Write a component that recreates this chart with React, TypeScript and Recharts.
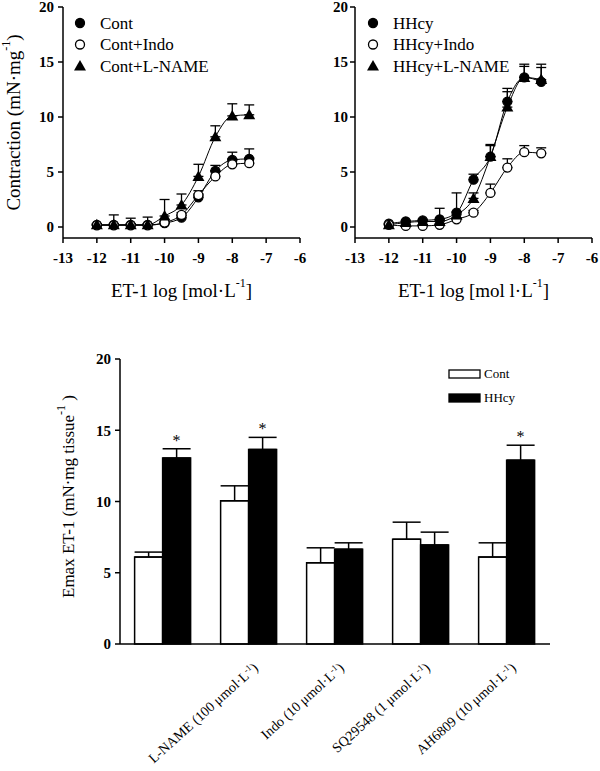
import React from 'react';
import {
  LineChart,
  Line,
  XAxis,
  YAxis,
  ErrorBar,
  Label,
  Legend,
  BarChart,
  Bar,
  LabelList,
} from 'recharts';

const FONT = '"Liberation Serif", "Times New Roman", serif';

// concentration-response curves (x = log molar ET-1)
const logDose = [-12, -11.5, -11, -10.5, -10, -9.5, -9, -8.5, -8, -7.5];
const xTicks = [-13, -12, -11, -10, -9, -8, -7, -6];
const yTicks = [0, 5, 10, 15, 20];

const contMean = [0.2, 0.2, 0.2, 0.2, 0.35, 0.85, 2.7, 5.1, 6.1, 6.2];
const contSem = [0.1, 0.1, 0.1, 0.1, 0.1, 0.2, 0.3, 0.5, 0.7, 0.9];
const contIndoMean = [0.15, 0.15, 0.15, 0.15, 0.4, 1.1, 2.9, 4.6, 5.7, 5.8];
const contIndoSem = [0.1, 0.1, 0.1, 0.1, 0.1, 0.2, 0.4, 0.5, 0.5, 0.5];
const contLnameMean = [0.2, 0.2, 0.2, 0.2, 1.0, 2.0, 4.6, 8.2, 10.1, 10.2];
const contLnameSem = [0.1, 0.9, 0.6, 0.7, 1.5, 1.0, 1.1, 1.0, 1.1, 0.9];

const hhcyMean = [0.3, 0.5, 0.6, 0.7, 1.3, 4.3, 6.4, 11.4, 13.6, 13.2];
const hhcySem = [0.1, 0.1, 0.1, 1.0, 1.8, 0.5, 1.0, 1.2, 1.2, 1.6];
const hhcyIndoMean = [0.2, 0.1, 0.1, 0.2, 0.7, 1.3, 3.1, 5.4, 6.8, 6.7];
const hhcyIndoSem = [0.1, 0.1, 0.1, 0.1, 0.1, 0.2, 0.8, 0.8, 0.6, 0.5];
const hhcyLnameMean = [0.2, 0.4, 0.5, 0.5, 1.1, 2.6, 6.4, 10.9, 13.6, 13.4];
const hhcyLnameSem = [0.1, 0.1, 0.1, 0.1, 0.3, 0.5, 1.1, 1.4, 1.0, 1.1];

const leftNames = ['Cont', 'Cont+Indo', 'Cont+L-NAME'];
const rightNames = ['HHcy', 'HHcy+Indo', 'HHcy+L-NAME'];

// Emax bars
const treatments = [
  '',
  'L-NAME (100 μmol·L-1)',
  'Indo (10 μmol·L-1)',
  'SQ29548  (1 μmol·L-1)',
  'AH6809  (10 μmol·L-1)',
];
const emaxCont = [6.1, 10.05, 5.7, 7.35, 6.1];
const emaxContSem = [0.35, 1.05, 1.05, 1.2, 1.0];
const emaxHHcy = [13.05, 13.65, 6.65, 6.95, 12.9];
const emaxHHcySem = [0.65, 0.85, 0.45, 0.9, 1.05];
const starred = [true, true, false, false, true];

const leftRows = logDose.map((x, i) => ({
  x,
  a: contMean[i],
  aErr: [0, contSem[i]],
  b: contIndoMean[i],
  bErr: [0, contIndoSem[i]],
  c: contLnameMean[i],
  cErr: [0, contLnameSem[i]],
}));

const rightRows = logDose.map((x, i) => ({
  x,
  a: hhcyMean[i],
  aErr: [0, hhcySem[i]],
  b: hhcyIndoMean[i],
  bErr: [0, hhcyIndoSem[i]],
  c: hhcyLnameMean[i],
  cErr: [0, hhcyLnameSem[i]],
}));

const barRows = treatments.map((label, i) => ({
  label,
  cont: emaxCont[i],
  contErr: [0, emaxContSem[i]],
  hhcy: emaxHHcy[i],
  hhcyErr: [0, emaxHHcySem[i]],
}));

type Shape = 'filled' | 'open' | 'triangle';
const shapes: Shape[] = ['filled', 'open', 'triangle'];

function marker(shape: Shape, cx: number, cy: number, key?: string) {
  if (shape === 'triangle') {
    return (
      <polygon
        key={key}
        points={`${cx},${cy - 6} ${cx - 6},${cy + 4.5} ${cx + 6},${cy + 4.5}`}
        fill="#000"
      />
    );
  }
  return (
    <circle
      key={key}
      cx={cx}
      cy={cy}
      r={4.5}
      fill={shape === 'filled' ? '#000' : '#fff'}
      stroke="#000"
      strokeWidth={1.3}
    />
  );
}

const makeDot = (shape: Shape) => (props: any) => {
  const { cx, cy, index } = props;
  const key = `${shape}-${index}`;
  if (cx == null || cy == null) return <g key={key} />;
  return marker(shape, cx, cy, key);
};

const SymbolLegend = ({ names }: { names: string[] }) => (
  <svg width={170} height={70}>
    {names.map((n, i) => (
      <g key={n}>
        {marker(shapes[i], 10, 13 + i * 21.5)}
        <text
          x={30}
          y={13 + i * 21.5}
          dominantBaseline="central"
          fontFamily={FONT}
          fontSize={17}
          fill="#000"
        >
          {n}
        </text>
      </g>
    ))}
  </svg>
);

const axisStyle = { stroke: '#000', strokeWidth: 1.5 };
const tickStyle = { fill: '#000', fontSize: 15, fontWeight: 'bold', fontFamily: FONT };

const xTitle = (text: string) => (props: any) => {
  const vb = props.viewBox || {};
  const cx = vb.x + vb.width / 2;
  const cy = vb.y + 52;
  return (
    <text x={cx} y={cy} textAnchor="middle" dominantBaseline="central" fontFamily={FONT} fontSize={19} fill="#000">
      {text}
      <tspan dy={-7} fontSize={12}>-1</tspan>
      <tspan dy={7}>]</tspan>
    </text>
  );
};

const contractionTitle = (props: any) => {
  const vb = props.viewBox || {};
  const x = vb.x + 13;
  const y = vb.y + vb.height / 2;
  return (
    <text
      x={x}
      y={y}
      transform={`rotate(-90 ${x} ${y})`}
      textAnchor="middle"
      dominantBaseline="central"
      fontFamily={FONT}
      fontSize={19}
      fill="#000"
    >
      Contraction (mN·mg
      <tspan dy={-7} fontSize={12}>-1</tspan>
      <tspan dy={7}>)</tspan>
    </text>
  );
};

const emaxTitle = (props: any) => {
  const vb = props.viewBox || {};
  const x = vb.x + 68;
  const y = vb.y + vb.height / 2 - 5;
  return (
    <text
      x={x}
      y={y}
      transform={`rotate(-90 ${x} ${y})`}
      textAnchor="middle"
      dominantBaseline="central"
      fontFamily={FONT}
      fontSize={17}
      fill="#000"
    >
      Emax ET-1 (mN·mg tissue
      <tspan dy={-7} fontSize={12}>-1</tspan>
      <tspan dy={7}> )</tspan>
    </text>
  );
};

const BarTick = (props: any) => {
  const { x, y, payload } = props;
  const label: string = payload?.value || '';
  if (!label) return null;
  const cut = label.lastIndexOf('-1');
  const base = label.slice(0, cut);
  const ax = x + 10;
  const ay = y + 23;
  return (
    <text
      x={ax}
      y={ay}
      transform={`rotate(-42 ${ax} ${ay})`}
      textAnchor="end"
      fontFamily={FONT}
      fontSize={14}
      fill="#000"
    >
      {base}
      <tspan dy={-5} fontSize={9}>-1</tspan>
      <tspan dy={5}>)</tspan>
    </text>
  );
};

const renderStar = (props: any) => {
  const { x, y, width, height, value, index } = props;
  if (!starred[index] || !value) return null;
  const pxPerUnit = height / value;
  const top = y - emaxHHcySem[index] * pxPerUnit;
  return (
    <text key={`star-${index}`} x={x + width / 2} y={top - 3} textAnchor="middle" fontFamily={FONT} fontSize={16} fill="#000">
      *
    </text>
  );
};

const BarLegend = () => (
  <div style={{ fontFamily: FONT, fontSize: 13, color: '#000', lineHeight: '24px' }}>
    {[
      { name: 'Cont', fill: '#fff' },
      { name: 'HHcy', fill: '#000' },
    ].map((s) => (
      <div key={s.name} style={{ display: 'flex', alignItems: 'center', height: 24 }}>
        <svg width={36} height={12}>
          <rect x={1} y={2} width={31} height={8} fill={s.fill} stroke="#000" strokeWidth={1.3} />
        </svg>
        <span>{s.name}</span>
      </div>
    ))}
  </div>
);

function CurveChart({
  rows,
  names,
  yWidth,
  right,
  legendLeft,
  title,
  showYTitle,
}: {
  rows: any[];
  names: string[];
  yWidth: number;
  right: number;
  legendLeft: number;
  title: string;
  showYTitle: boolean;
}) {
  const keys = ['a', 'b', 'c'];
  return (
    <LineChart width={300} height={310} data={rows} margin={{ top: 7, right, bottom: 0, left: 0 }}>
      <XAxis
        type="number"
        dataKey="x"
        domain={[-13, -6]}
        ticks={xTicks}
        interval={0}
        allowDataOverflow
        height={72}
        tickSize={5}
        tickMargin={9}
        axisLine={axisStyle}
        tickLine={axisStyle}
        tick={tickStyle}
      >
        <Label content={xTitle(title)} />
      </XAxis>
      <YAxis
        type="number"
        domain={[-1, 20]}
        ticks={yTicks}
        interval={0}
        width={yWidth}
        tickSize={5}
        tickMargin={showYTitle ? 4 : 2}
        axisLine={axisStyle}
        tickLine={axisStyle}
        tick={tickStyle}
      >
        {showYTitle && <Label content={contractionTitle} />}
      </YAxis>
      {keys.map((k, i) => (
        <Line
          key={k}
          dataKey={k}
          name={names[i]}
          type="monotone"
          stroke="#000"
          strokeWidth={1}
          dot={makeDot(shapes[i])}
          activeDot={false}
          isAnimationActive={false}
        >
          <ErrorBar dataKey={`${k}Err`} direction="y" width={5} stroke="#000" strokeWidth={1.3} />
        </Line>
      ))}
      <Legend
        layout="vertical"
        align="center"
        verticalAlign="middle"
        wrapperStyle={{ left: legendLeft, top: 10, width: 170 }}
        content={() => <SymbolLegend names={names} />}
      />
    </LineChart>
  );
}

export default function App() {
  return (
    <div style={{ position: 'absolute', left: 0, top: 0, width: 600, height: 771, background: '#fff' }}>
      <style>{`.recharts-surface { overflow: visible; }`}</style>
      <div style={{ position: 'absolute', left: 0, top: 0 }}>
        <CurveChart
          rows={leftRows}
          names={leftNames}
          yWidth={63}
          right={0}
          legendLeft={70}
          title="ET-1 log [mol·L"
          showYTitle
        />
      </div>
      <div style={{ position: 'absolute', left: 300, top: 0 }}>
        <CurveChart
          rows={rightRows}
          names={rightNames}
          yWidth={55}
          right={8}
          legendLeft={63}
          title="ET-1 log [mol l·L"
          showYTitle={false}
        />
      </div>
      <div style={{ position: 'absolute', left: 0, top: 340 }}>
        <BarChart
          width={600}
          height={431}
          data={barRows}
          margin={{ top: 19, right: 50, bottom: 0, left: 0 }}
          barCategoryGap="17%"
          barGap={0}
        >
          <XAxis
            dataKey="label"
            height={127}
            interval={0}
            tickLine={false}
            tickSize={0}
            axisLine={axisStyle}
            tick={<BarTick />}
          />
          <YAxis
            type="number"
            domain={[0, 20]}
            ticks={yTicks}
            interval={0}
            width={120}
            tickSize={5}
            tickMargin={4}
            axisLine={axisStyle}
            tickLine={axisStyle}
            tick={tickStyle}
          >
            <Label content={emaxTitle} />
          </YAxis>
          <Bar dataKey="cont" name="Cont" fill="#fff" stroke="#000" strokeWidth={1.5} isAnimationActive={false}>
            <ErrorBar dataKey="contErr" direction="y" width={14} stroke="#000" strokeWidth={1.5} />
          </Bar>
          <Bar dataKey="hhcy" name="HHcy" fill="#000" stroke="#000" strokeWidth={1.5} isAnimationActive={false}>
            <ErrorBar dataKey="hhcyErr" direction="y" width={14} stroke="#000" strokeWidth={1.5} />
            <LabelList dataKey="hhcy" content={renderStar} />
          </Bar>
          <Legend
            layout="vertical"
            align="center"
            verticalAlign="middle"
            wrapperStyle={{ left: 448, top: 22, width: 100 }}
            content={() => <BarLegend />}
          />
        </BarChart>
      </div>
    </div>
  );
}
